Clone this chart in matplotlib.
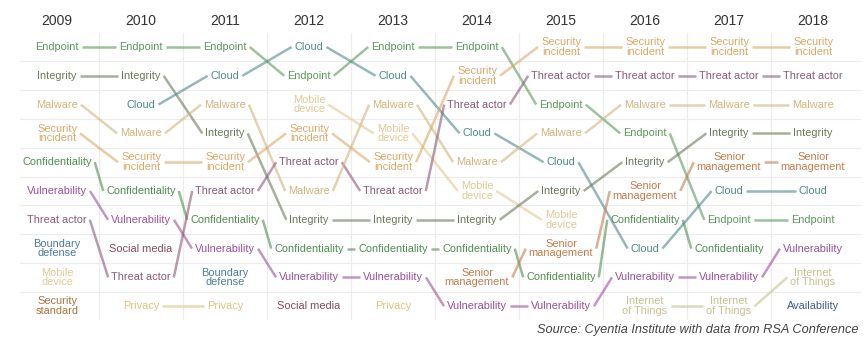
import matplotlib
matplotlib.use("Agg")
import matplotlib.pyplot as plt

plt.rcParams['font.family'] = ['Liberation Sans', 'DejaVu Sans']

years = ['2009', '2010', '2011', '2012', '2013', '2014', '2015', '2016', '2017', '2018']

# top-10 terms for each year, rank 1 first
rank_2009 = ['Endpoint', 'Integrity', 'Malware', 'Security incident', 'Confidentiality',
             'Vulnerability', 'Threat actor', 'Boundary defense', 'Mobile device', 'Security standard']
rank_2010 = ['Endpoint', 'Integrity', 'Cloud', 'Malware', 'Security incident',
             'Confidentiality', 'Vulnerability', 'Social media', 'Threat actor', 'Privacy']
rank_2011 = ['Endpoint', 'Cloud', 'Malware', 'Integrity', 'Security incident',
             'Threat actor', 'Confidentiality', 'Vulnerability', 'Boundary defense', 'Privacy']
rank_2012 = ['Cloud', 'Endpoint', 'Mobile device', 'Security incident', 'Threat actor',
             'Malware', 'Integrity', 'Confidentiality', 'Vulnerability', 'Social media']
rank_2013 = ['Endpoint', 'Cloud', 'Malware', 'Mobile device', 'Security incident',
             'Threat actor', 'Integrity', 'Confidentiality', 'Vulnerability', 'Privacy']
rank_2014 = ['Endpoint', 'Security incident', 'Threat actor', 'Cloud', 'Malware',
             'Mobile device', 'Integrity', 'Confidentiality', 'Senior management', 'Vulnerability']
rank_2015 = ['Security incident', 'Threat actor', 'Endpoint', 'Malware', 'Cloud',
             'Integrity', 'Mobile device', 'Senior management', 'Confidentiality', 'Vulnerability']
rank_2016 = ['Security incident', 'Threat actor', 'Malware', 'Endpoint', 'Integrity',
             'Senior management', 'Confidentiality', 'Cloud', 'Vulnerability', 'Internet of Things']
rank_2017 = ['Security incident', 'Threat actor', 'Malware', 'Integrity', 'Senior management',
             'Cloud', 'Endpoint', 'Confidentiality', 'Vulnerability', 'Internet of Things']
rank_2018 = ['Security incident', 'Threat actor', 'Malware', 'Integrity', 'Senior management',
             'Cloud', 'Endpoint', 'Vulnerability', 'Internet of Things', 'Availability']

rankings = [rank_2009, rank_2010, rank_2011, rank_2012, rank_2013,
            rank_2014, rank_2015, rank_2016, rank_2017, rank_2018]

# how each term is written (two-line ones wrap)
display = {
    'Security incident': 'Security\nincident',
    'Boundary defense': 'Boundary\ndefense',
    'Mobile device': 'Mobile\ndevice',
    'Security standard': 'Security\nstandard',
    'Senior management': 'Senior\nmanagement',
    'Internet of Things': 'Internet\nof Things',
}

colors = {
    'Endpoint': '#5b9a5b',
    'Integrity': '#6b7a5c',
    'Cloud': '#4e8a8a',
    'Malware': '#d2b47c',
    'Security incident': '#dca865',
    'Confidentiality': '#4f8f4f',
    'Vulnerability': '#9b4f9b',
    'Threat actor': '#8a5a78',
    'Boundary defense': '#4a7ca0',
    'Mobile device': '#e3c995',
    'Security standard': '#a8743e',
    'Social media': '#87495d',
    'Privacy': '#e2c27e',
    'Senior management': '#c47c4c',
    'Internet of Things': '#c6c291',
    'Availability': '#3e5f8a',
}

fig = plt.figure(figsize=(8.64, 3.45), dpi=100)
ax = fig.add_axes([0, 0, 1, 1])
ax.set_xlim(-57 / 84, (864 - 57) / 84)
ax.set_ylim(1 + (345 - 47) / 28.8, 1 - 47 / 28.8)
ax.axis('off')

# faint table grid
for r in range(1, 10):
    ax.plot([-0.44, 9.56], [r + 0.5, r + 0.5], color='#ececec', lw=0.8, zorder=0)
for c in range(9):
    ax.plot([c + 0.5, c + 0.5], [0.5, 10.45], color='#ececec', lw=0.8, zorder=0)

# year headers
for i, yr in enumerate(years):
    ax.text(i, 0.1, yr, ha='center', va='center', fontsize=10, color='#333333')

# term labels
texts = []
for i, ranks in enumerate(rankings):
    col = {}
    for r, term in enumerate(ranks, start=1):
        t = ax.text(i, r, display.get(term, term), ha='center', va='center',
                    fontsize=7.9, color=colors[term], linespacing=0.95, zorder=3)
        col[term] = (r, t)
    texts.append(col)

fig.canvas.draw()
renderer = fig.canvas.get_renderer()
inv = ax.transData.inverted()
pad = 3  # pixels between label and connector

# connectors between the same term in consecutive years
for i in range(len(rankings) - 1):
    for term, (r0, t0) in texts[i].items():
        if term not in texts[i + 1]:
            continue
        r1, t1 = texts[i + 1][term]
        b0 = t0.get_window_extent(renderer)
        b1 = t1.get_window_extent(renderer)
        x0 = inv.transform((b0.x1 + pad, 0))[0]
        x1 = inv.transform((b1.x0 - pad, 0))[0]
        ax.plot([x0, x1], [r0, r1], color=colors[term], alpha=0.6, lw=1.8,
                solid_capstyle='butt', zorder=2)

ax.text(9.536, 10.83, 'Source: Cyentia Institute with data from RSA Conference',
        ha='right', va='center', fontsize=9.2, style='italic', color='#444444')

fig.savefig('out.png', dpi=100)
